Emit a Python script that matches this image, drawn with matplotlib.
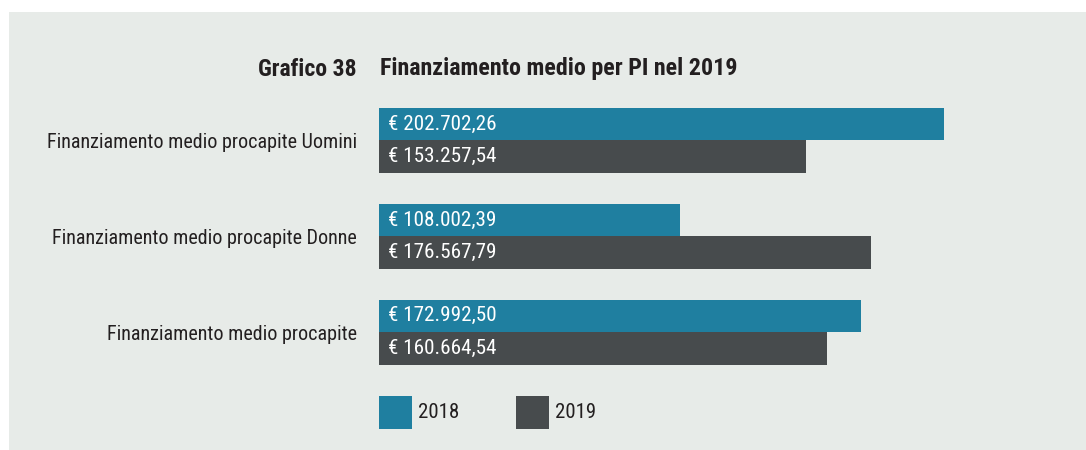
import matplotlib
matplotlib.use("Agg")
import matplotlib.pyplot as plt
from matplotlib.patches import Rectangle
from matplotlib import font_manager as fm
import numpy as np

# Data
categories = ["Finanziamento medio procapite Uomini",
              "Finanziamento medio procapite Donne",
              "Finanziamento medio procapite"]
values_2018 = [202702.26, 108002.39, 172992.50]
values_2019 = [153257.54, 176567.79, 160664.54]
series_labels = ["2018", "2019"]

title_num = "Grafico 38"
title_text = "Finanziamento medio per PI nel 2019"

BLUE = "#1f7fa0"
DARK = "#474b4d"
BG = "#e7ebe8"
TEXT = "#231f20"

available = {f.name for f in fm.fontManager.ttflist}
FONT = [f for f in ["Roboto Condensed", "Archivo Narrow", "DejaVu Sans"]
        if f in available]
plt.rcParams["font.family"] = FONT

W, H = 1086, 450
fig = plt.figure(figsize=(W / 100, H / 100), dpi=100, facecolor="white")

# panel background
fig.patches.append(Rectangle((9 / W, 0), 1 - 9 / W, (H - 12) / H,
                             transform=fig.transFigure, facecolor=BG,
                             edgecolor="none", zorder=-10))


def fx(px):
    return px / W


def fy(py):
    return 1 - py / H


def fmt_eur(v):
    s = f"{v:,.2f}"
    s = s.replace(",", "X").replace(".", ",").replace("X", ".")
    return "€ " + s


# axes geometry in pixels
left_px, right_px = 379, 1048
top_px, bot_px = 108, 364.5
xmax = 240000
h = 32.5 / 96.0

ax = fig.add_axes([fx(left_px), fy(bot_px), fx(right_px - left_px),
                   (bot_px - top_px) / H])
ax.set_facecolor("none")
for s in ax.spines.values():
    s.set_visible(False)

y = np.arange(len(categories))
ax.barh(y - h / 2, values_2018, height=h, color=BLUE, edgecolor="none")
ax.barh(y + h / 2, values_2019, height=h, color=DARK, edgecolor="none")

for yi, v in zip(y - h / 2, values_2018):
    ax.text(3300, yi, fmt_eur(v), color="white", fontsize=15.2,
            va="center", ha="left")
for yi, v in zip(y + h / 2, values_2019):
    ax.text(3300, yi, fmt_eur(v), color="white", fontsize=15.2,
            va="center", ha="left")

ax.set_xlim(0, xmax)
ax.set_ylim(len(categories) - 1 + h, -h)
ax.set_xticks([])
ax.set_yticks(y)
ax.set_yticklabels(categories, fontsize=14.5, color=TEXT)
ax.tick_params(axis="y", length=0, pad=16)

# title
fig.text(fx(357), fy(69), title_num, ha="right", va="center",
         fontsize=17, fontweight="bold", color=TEXT)
fig.text(fx(380), fy(69), title_text, ha="left", va="center",
         fontsize=17.3, fontweight="bold", color=TEXT)

# legend
for x0, col, lab in [(379, BLUE, series_labels[0]), (516, DARK, series_labels[1])]:
    fig.patches.append(Rectangle((fx(x0), fy(429)), fx(33), 33 / H,
                                 transform=fig.transFigure, facecolor=col,
                                 edgecolor="none"))
    fig.text(fx(x0 + 39), fy(412.5), lab, ha="left", va="center",
             fontsize=15, color=TEXT)

fig.savefig("out.png", dpi=100, facecolor=fig.get_facecolor())
